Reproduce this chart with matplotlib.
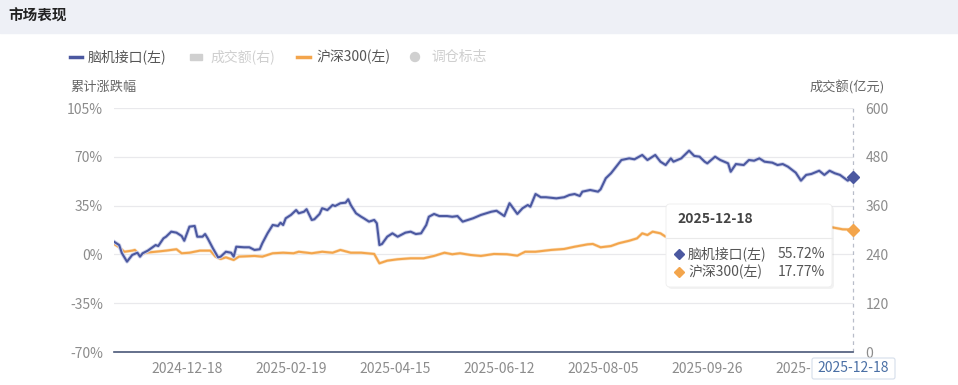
import matplotlib
matplotlib.use('Agg')
import matplotlib.pyplot as plt
import matplotlib.patheffects as pe
from matplotlib.patches import FancyBboxPatch, Rectangle, Circle
from matplotlib.transforms import Affine2D

plt.rcParams['font.family'] = ['Noto Sans CJK SC', 'DejaVu Sans']

W, H = 958, 385

# 交易日序号 -> 累计涨跌幅(%)
bci_idx = [0, 2, 3, 5, 7, 9, 10, 11, 13, 16, 17, 19, 20, 22, 24, 26, 27, 29, 31, 32, 34, 35, 36, 38, 40, 41,
           43, 45, 46, 47, 50, 52, 54, 56, 57, 59, 61, 63, 64, 65, 66, 68, 70, 71, 73, 74, 76, 77, 79, 80, 82,
           84, 85, 87, 89, 90, 91, 93, 95, 96, 98, 100, 101, 102, 103, 105, 107, 109, 112, 114, 116, 118, 120,
           121, 123, 125, 128, 130, 132, 134, 136, 138, 141, 145, 147, 150, 152, 153, 155, 157, 159, 160, 162,
           164, 166, 170, 173, 175, 177, 179, 180, 183, 186, 187, 189, 191, 193, 195, 198, 200, 203, 205, 208,
           210, 212, 214, 215, 218, 221, 223, 225, 227, 228, 231, 233, 236, 237, 239, 242, 244, 246, 248, 250,
           253, 255, 257, 259, 262, 264, 266, 268, 271, 273, 275, 277, 279, 282, 284]
bci_val = [9.1, 6.7, 1.0, -5.2, -0.4, 1.2, -1.6, 0.8, 2.7, 6.7, 6.0, 11.5, 12.7, 16.3, 15.6, 13.2, 9.8, 19.9,
           20.4, 12.7, 12.7, 14.6, 11.5, 4.4, -2.1, -1.6, 1.9, 1.2, -1.6, 5.5, 5.1, 5.1, 3.2, 3.7, 8.0, 15.1,
           21.1, 20.4, 22.7, 21.1, 25.9, 28.3, 31.8, 29.5, 30.6, 32.4, 24.7, 25.2, 29.0, 33.1, 31.8, 35.4, 34.7,
           36.7, 37.1, 39.5, 35.4, 29.5, 27.0, 25.9, 23.5, 24.7, 22.3, 6.7, 7.5, 12.7, 15.1, 12.7, 15.6, 16.3,
           14.6, 15.1, 21.1, 27.0, 29.0, 27.5, 27.5, 27.0, 27.5, 23.5, 24.7, 25.9, 28.3, 30.6, 31.3, 27.5, 36.7,
           34.2, 29.0, 33.1, 35.4, 34.2, 43.3, 41.0, 41.0, 40.2, 41.0, 42.6, 43.3, 41.9, 45.0, 46.2, 45.0, 46.7,
           54.6, 58.2, 62.9, 67.7, 68.9, 68.2, 71.3, 67.7, 71.3, 66.5, 64.1, 68.9, 66.5, 68.9, 74.4, 70.6, 70.1,
           66.5, 65.3, 70.1, 67.7, 65.3, 59.3, 64.8, 64.1, 67.7, 67.2, 68.9, 66.5, 65.8, 64.1, 64.8, 62.9, 58.6,
           52.9, 57.0, 57.7, 60.0, 57.0, 60.0, 58.2, 57.0, 52.9, 55.72]

hs_idx = [0, 2, 4, 7, 8, 10, 12, 16, 20, 24, 26, 29, 33, 37, 39, 41, 43, 46, 48, 54, 57, 61, 65, 69, 71, 76, 80,
          84, 87, 91, 95, 100, 102, 105, 109, 114, 119, 123, 127, 130, 133, 137, 141, 146, 151, 155, 158, 162,
          168, 173, 177, 182, 184, 187, 191, 194, 198, 201, 203, 205, 207, 210, 212, 216, 220, 224, 228, 232,
          236, 240, 244, 248, 252, 256, 260, 264, 268, 272, 276, 280, 284]
hs_val = [7.5, 5.1, 1.9, 2.7, 3.2, -0.9, 1.2, 1.9, 2.7, 3.7, 0.8, 1.2, 2.7, 2.7, -1.6, -3.3, -2.1, -4.0, -1.6,
          -1.1, -1.6, 0.8, 1.2, 0.8, 1.9, 0.8, 1.9, 1.2, 3.2, 1.2, 1.2, 0.3, -6.4, -4.5, -3.5, -2.8, -2.8, -1.1,
          1.2, 0.1, 0.8, -0.4, -1.1, 0.3, 0.1, -0.9, 1.9, 1.9, 3.2, 3.9, 5.5, 7.2, 7.5, 5.1, 6.0, 8.0, 9.8, 11.5,
          15.1, 13.9, 16.3, 15.1, 12.7, 13.5, 14.8, 15.5, 14.6, 16.0, 16.8, 15.9, 17.2, 18.0, 17.1, 18.4, 17.6,
          18.8, 18.2, 19.5, 19.4, 18.0, 17.77]

tick_idx = [28, 68, 108, 148, 188, 228, 268]
tick_labels = ['2024-12-18', '2025-02-19', '2025-04-15', '2025-06-12', '2025-08-05', '2025-09-26', '2025-11-25']
last_date = '2025-12-18'
left_ticks = [-70, -35, 0, 35, 70, 105]
right_ticks = [0, 120, 240, 360, 480, 600]

BLUE = '#4b58a0'
ORANGE = '#f3a54c'
GREY_TXT = '#8c8c8c'

fig = plt.figure(figsize=(W / 100, H / 100), dpi=100)
# 像素坐标(左上角为原点)
px = Affine2D().scale(1 / W, -1 / H).translate(0, 1) + fig.transFigure

# 顶部标题栏
fig.patches.append(Rectangle((0, 0), W, 33, transform=px, color='#eef0f6', zorder=0))
fig.text(8, 16, '市场表现', transform=px, fontsize=10.5, fontweight='bold', color='#222', va='center')

# 图例
fig.lines.append(plt.Line2D([70, 82], [57, 57], transform=px, color=BLUE, lw=2.5))
fig.text(88, 57, '脑机接口(左)', transform=px, fontsize=10, color='#555', va='center')
fig.patches.append(Rectangle((190, 54), 12, 6, transform=px, color='#d0d0d0'))
fig.text(210, 57, '成交额(右)', transform=px, fontsize=10, color='#cfcfcf', va='center')
fig.lines.append(plt.Line2D([297, 310], [57, 57], transform=px, color=ORANGE, lw=2.5))
fig.text(316, 57, '沪深300(左)', transform=px, fontsize=10, color='#555', va='center')
fig.patches.append(Circle((415, 57), 4.5, transform=px, color='#d0d0d0'))
fig.text(431, 57, '调仓标志', transform=px, fontsize=10, color='#cfcfcf', va='center')

fig.text(70, 87, '累计涨跌幅', transform=px, fontsize=9.5, color='#666', va='center')
fig.text(885, 87, '成交额(亿元)', transform=px, fontsize=9.5, color='#666', va='center', ha='right')

x0, x1, y0, y1 = 114, 853, 108, 352
ax = fig.add_axes([x0 / W, 1 - y1 / H, (x1 - x0) / W, (y1 - y0) / H])
ax.set_xlim(0, 284)
ax.set_ylim(-70, 105)
ax.set_yticks(left_ticks)
ax.set_yticklabels([f'{v}%' for v in left_ticks])
ax.yaxis.grid(True, color='#e9e9ec', lw=0.9)
ax.set_axisbelow(True)
for s in ['top', 'right', 'left']:
    ax.spines[s].set_visible(False)
ax.spines['bottom'].set_color('#4a5878')
ax.spines['bottom'].set_linewidth(1.2)
ax.tick_params(axis='y', length=0, pad=8, labelsize=10, labelcolor=GREY_TXT)
ax.set_xticks(tick_idx)
ax.set_xticklabels(tick_labels)
ax.tick_params(axis='x', length=0, pad=7, labelsize=10, labelcolor=GREY_TXT)

ax.plot(hs_idx, hs_val, color=ORANGE, lw=1.5,
        path_effects=[pe.Stroke(linewidth=2.4, foreground='#fbe3c4'), pe.Normal()], zorder=3)
ax.plot(bci_idx, bci_val, color=BLUE, lw=1.5,
        path_effects=[pe.Stroke(linewidth=2.8, foreground='#cdd1ea'), pe.Normal()], zorder=4)
ax.axvline(284, color='#b8bdc9', lw=0.9, ls=(0, (3, 3)), zorder=2, clip_on=False)
ax.plot([bci_idx[-1]], [bci_val[-1]], marker='D', ms=6.5, color=BLUE, zorder=6, clip_on=False)
ax.plot([hs_idx[-1]], [hs_val[-1]], marker='D', ms=6.5, color=ORANGE, zorder=6, clip_on=False)

ax2 = ax.twinx()
ax2.set_ylim(0, 600)
ax2.set_yticks(right_ticks)
for s in ax2.spines.values():
    s.set_visible(False)
ax2.tick_params(axis='y', length=0, pad=9, labelsize=10, labelcolor=GREY_TXT)

# 最新日期标签(盖住前一个刻度标签的后半部分)
fig.patches.append(FancyBboxPatch((812, 358), 83, 21, transform=px, boxstyle='round,pad=0,rounding_size=2',
                                  fc='white', ec='#d5deea', lw=0.8, zorder=9))
fig.text(853.5, 368, last_date, transform=px, fontsize=10, color='#4a6fa5', ha='center', va='center', zorder=10)

# 提示框
fig.patches.append(FancyBboxPatch((668, 206), 166, 83, transform=px, boxstyle='round,pad=0,rounding_size=4',
                                  fc='#000000', ec='none', alpha=0.05, zorder=8))
fig.patches.append(FancyBboxPatch((666, 204), 166, 83, transform=px, boxstyle='round,pad=0,rounding_size=4',
                                  fc='white', ec='#eeeeee', lw=0.6, zorder=9))
fig.text(677, 219, last_date, transform=px, fontsize=10, fontweight='bold', color='#444', va='center', zorder=10)
fig.lines.append(plt.Line2D([666, 832], [238, 238], transform=px, color='#eaeaea', lw=0.8, zorder=10))
fig.lines.append(plt.Line2D([679], [254], transform=px, marker='D', ms=5.5, color=BLUE, zorder=10))
fig.text(688, 254, '脑机接口(左)', transform=px, fontsize=10, color='#555', va='center', zorder=10)
fig.text(825, 254, f'{bci_val[-1]:.2f}%', transform=px, fontsize=10, color='#555', va='center', ha='right', zorder=10)
fig.lines.append(plt.Line2D([679], [272], transform=px, marker='D', ms=5.5, color=ORANGE, zorder=10))
fig.text(688, 272, '沪深300(左)', transform=px, fontsize=10, color='#555', va='center', zorder=10)
fig.text(825, 272, f'{hs_val[-1]:.2f}%', transform=px, fontsize=10, color='#555', va='center', ha='right', zorder=10)

fig.savefig('out.png', dpi=100)
